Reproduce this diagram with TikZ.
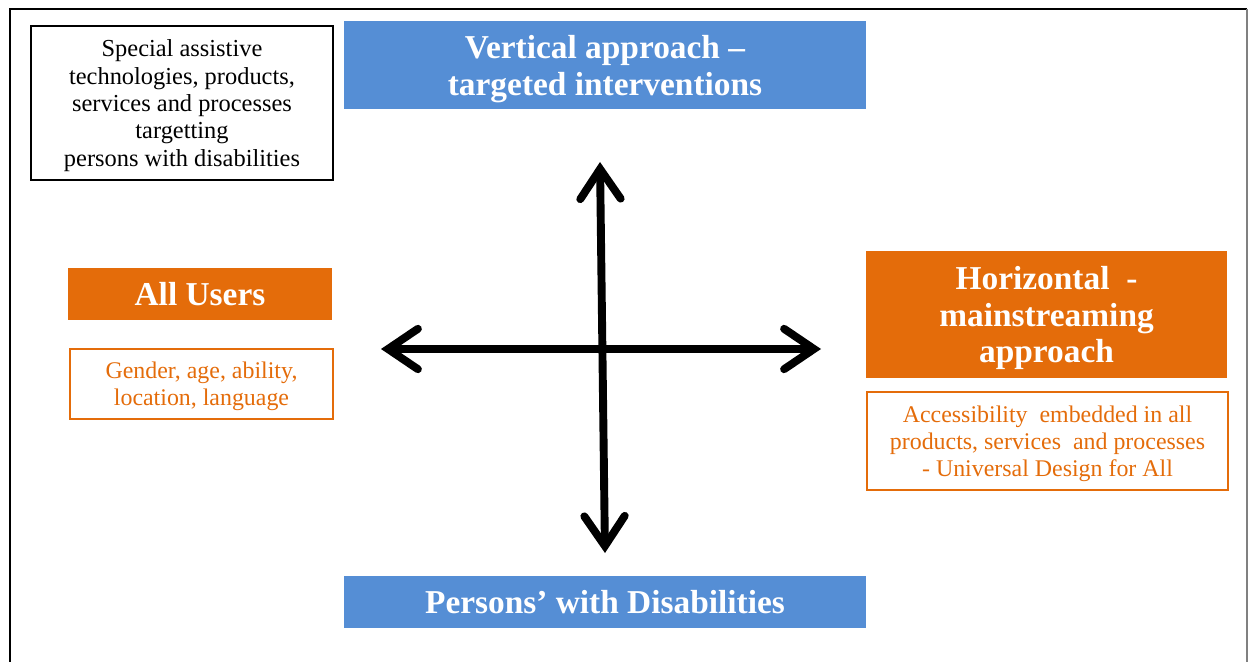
\documentclass[tikz,border=0pt]{standalone}
\usepackage{fontspec}
\setmainfont{Liberation Serif}
\usetikzlibrary{arrows.meta}

\definecolor{boxblue}{RGB}{85,142,213}
\definecolor{boxorange}{RGB}{228,108,10}

\tikzset{
    titlebox/.style={fill=#1, text=white, font=\fontsize{19}{21}\selectfont\bfseries, align=center, inner sep=0pt, text depth=0pt},
    notebox/.style={draw=boxorange, line width=0.7pt, text=boxorange, font=\fontsize{13.6}{15.4}\selectfont, align=center, inner sep=0pt, text depth=0pt},
    axis/.style={line width=4.5pt, {Straight Barb[length=17pt,width=23pt,line cap=round,line join=miter]}-{Straight Barb[length=17pt,width=23pt,line cap=round,line join=miter]}}
}

\begin{document}
\begin{tikzpicture}[x=0.02cm, y=-0.02cm]

        \useasboundingbox (0,0) rectangle (1248,662);

        % Draw the frame
        \draw[line width=1.2pt] (10,662) -- (10,9) -- (1247,9);
        \draw[gray, line width=0.6pt] (1247,9) -- (1247,662);

        % Top and bottom boxes
        \node[titlebox=boxblue, minimum width=10.44cm, minimum height=1.76cm] (vertical) at (605,65)
            {Vertical approach --\\targeted interventions};
        \node[titlebox=boxblue, minimum width=10.44cm, minimum height=1.04cm] (persons) at (605,602)
            {Persons’ with Disabilities};

        % Left side
        \node[draw, line width=0.7pt, align=center, inner sep=0pt, text depth=0pt, font=\fontsize{13.9}{15.6}\selectfont,
            minimum width=6.04cm, minimum height=3.08cm] (special) at (182,103)
            {Special assistive\\technologies, products,\\services and processes\\targetting\\persons with disabilities};
        \node[titlebox=boxorange, minimum width=5.28cm, minimum height=1.04cm] (users) at (200,294) {All Users};
        \node[notebox, minimum width=5.26cm, minimum height=1.4cm] (gender) at (201.5,384)
            {Gender, age, ability,\\location, language};

        % Right side
        \node[titlebox=boxorange, minimum width=7.22cm, minimum height=2.54cm] (horizontal) at (1046.5,314.5)
            {Horizontal~~-\\mainstreaming\\approach};
        \node[notebox, minimum width=7.22cm, minimum height=1.96cm] (access) at (1047.5,441)
            {Accessibility~ embedded in all\\products, services~ and processes\\- Universal Design for All};

        % Draw the two arrows
        \coordinate (up) at (600,162);
        \coordinate (down) at (605,553);
        \coordinate (west) at (381,349);
        \coordinate (east) at (821,349);
        \draw[axis] (up) -- (down);
        \draw[axis] (west) -- (east);

    \end{tikzpicture}
\end{document}
